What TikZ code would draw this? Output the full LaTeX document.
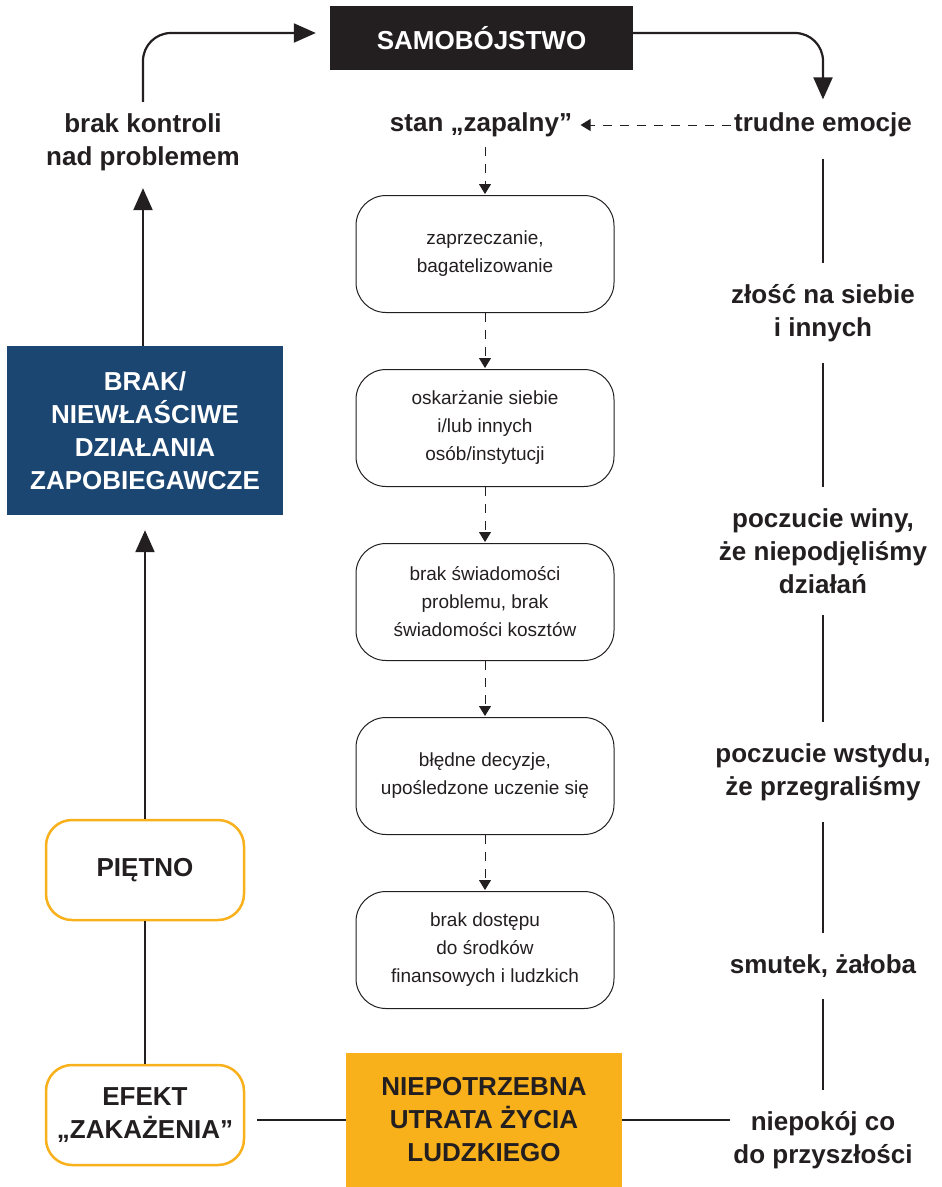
\documentclass[tikz,border=0pt]{standalone}
\usepackage{fontspec}
\setmainfont{Liberation Sans}
\usetikzlibrary{positioning,arrows.meta}

\definecolor{ink}{HTML}{231F20}
\definecolor{navy}{HTML}{1C4672}
\definecolor{amber}{HTML}{F8B01B}

\begin{document}
\begin{tikzpicture}[
  x=1pt, y=-1pt,
  big/.style={font=\fontsize{26}{33}\selectfont\bfseries, align=center, text=ink},
  stage/.style={draw=ink, rounded corners=30pt, line width=1pt, minimum width=258pt,
    minimum height=117pt, align=center, text=ink, font=\fontsize{19}{28}\selectfont},
  ring/.style={big, draw=amber, line width=2.5pt, rounded corners=26pt, fill=white,
    minimum width=198pt, minimum height=100pt},
  arr/.style={-{Triangle[length=22pt, width=19pt]}, line width=2.2pt, draw=ink},
  dasharr/.style={-{Triangle[length=10pt, width=12pt]}, line width=1pt, draw=ink,
    dash pattern=on 9pt off 8pt},
  link/.style={line width=2pt, draw=ink},
  gap/.style={shorten <=18pt, shorten >=18pt}
]
\useasboundingbox (0,0) rectangle (942,1187);

% top of the loop
\node[big, fill=ink, text=white, minimum width=303pt, minimum height=64pt] (suicide)
  at (481.5,38) {SAMOBÓJSTWO};
\node[big] (control) at (143,142) {brak kontroli\\nad problemem};
\node[big] (emotions) at (823,125) {trudne emocje};
\node[big] (inflamed) at (481,125) {stan „zapalny”};

\draw[arr, rounded corners=28pt, shorten <=8pt] (control.north)
  |- ([xshift=-14pt, yshift=5pt]suicide.west);
\draw[arr, rounded corners=28pt, shorten >=10pt] ([yshift=5pt]suicide.east)
  -| (emotions.north);
\draw[dasharr, shorten >=5pt] (emotions.west) -- (inflamed.east);

% middle column
\node[stage] (deny) at (485,254) {zaprzeczanie,\\bagatelizowanie};
\node[stage, below=56pt of deny] (blame) {oskarżanie siebie\\i/lub innych\\osób/instytucji};
\node[stage, below=56pt of blame] (unaware)
  {brak świadomości\\problemu, brak\\świadomości kosztów};
\node[stage, below=56pt of unaware] (errors) {błędne decyzje,\\upośledzone uczenie się};
\node[stage, below=56pt of errors] (lack) {brak dostępu\\do środków\\finansowych i ludzkich};

\draw[dasharr, shorten <=6pt, shorten >=1pt] (deny.north |- inflamed.south) -- (deny.north);
\draw[dasharr, shorten >=1pt] (deny) -- (blame);
\draw[dasharr, shorten >=1pt] (blame) -- (unaware);
\draw[dasharr, shorten >=1pt] (unaware) -- (errors);
\draw[dasharr, shorten >=1pt] (errors) -- (lack);

\node[big, fill=amber, minimum width=276pt, minimum height=134pt] (loss)
  at (484,1120) {NIEPOTRZEBNA\\UTRATA ŻYCIA\\LUDZKIEGO};

% right column
\node[big] (anger) at (823,313) {złość na siebie\\i innych};
\node[big] (guilt) at (823,551) {poczucie winy,\\że niepodjęliśmy\\działań};
\node[big] (shame) at (823,772) {poczucie wstydu,\\że przegraliśmy};
\node[big] (grief) at (823,966) {smutek, żałoba};
\node[big] (worry) at (823,1140) {niepokój co\\do przyszłości};

\draw[link, gap] (emotions) -- (anger);
\draw[link, gap] (anger) -- (guilt);
\draw[link, gap] (guilt) -- (shame);
\draw[link, gap] (shame) -- (grief);
\draw[link, gap] (grief) -- (worry);
\draw[link] (loss.east) -- (loss.east -| worry.west);

% left column
\node[big, fill=navy, text=white, minimum width=276pt, minimum height=169pt] (prevent)
  at (145,430.5) {BRAK/\\NIEWŁAŚCIWE\\DZIAŁANIA\\ZAPOBIEGAWCZE};
\node[ring] (stigma) at (145,870) {PIĘTNO};
\node[ring] (contagion) at (145,1115) {EFEKT\\„ZAKAŻENIA”};

\draw[arr, shorten >=14pt] (control.south |- prevent.north) -- (control.south);
\draw[arr, shorten >=15pt] (stigma.north) -- (prevent.south);
\draw[link] (contagion.north) -- (stigma.south);
\draw[link, shorten <=12pt] (contagion.east |- loss.west) -- (loss.west);
\end{tikzpicture}
\end{document}
